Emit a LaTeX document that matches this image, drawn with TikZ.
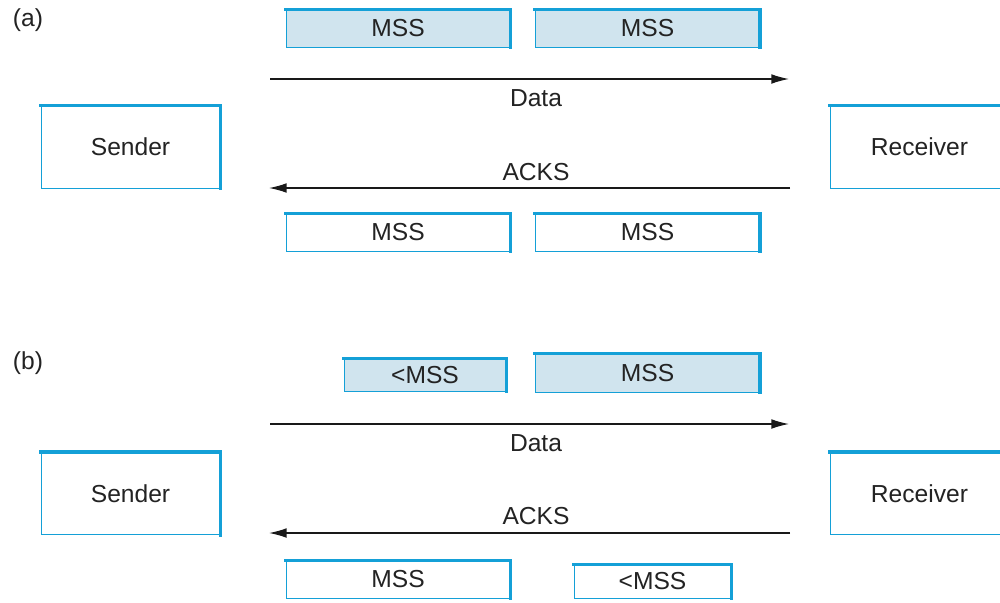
\documentclass[tikz,border=0pt]{standalone}
\usepackage{fontspec}
\setmainfont{Liberation Sans}
\usetikzlibrary{arrows.meta}
\definecolor{edgeblue}{RGB}{20,160,215}
\definecolor{fillblue}{RGB}{208,228,238}
\definecolor{txt}{RGB}{35,35,35}
\tikzset{
  box/.style={draw=edgeblue, line width=0.55pt, inner sep=0pt, text=txt,
    font=\fontsize{14}{16}\selectfont},
  seg/.style={box, minimum width=4.48cm, minimum height=0.74cm},
  full/.style={fill=fillblue},
  empty/.style={fill=white},
  party/.style={box, minimum width=3.58cm, minimum height=1.64cm, fill=white},
  thickedge/.style={draw=edgeblue, line width=2pt, line cap=rect},
  flow/.style={draw=black!90, line width=0.75pt, -{Latex[length=10pt,width=5.5pt]}},
  lbl/.style={text=txt, font=\fontsize{14}{16}\selectfont, inner sep=0pt},
}
\begin{document}
\begin{tikzpicture}[x=0.02cm,y=-0.02cm]
\clip (0,0) rectangle (1000,602);
\fill[white] (0,0) rectangle (1000,602);
% (a)
\node[lbl] (la) at (28,20) {(a)};
\node[seg,full] (a1) at (398,28.5) {MSS};
\node[seg,full] (a2) at (647.5,28.5) {MSS};
\node[party] (sa) at (130.5,147) {Sender};
\node[party] (ra) at (919.5,147) {Receiver};
\node[seg,empty] (a3) at (398,232.5) {MSS};
\node[seg,empty] (a4) at (647.5,232.5) {MSS};
\coordinate (da1) at (270,79);
\coordinate (da2) at (789,79);
\coordinate (ka1) at (790,188);
\coordinate (ka2) at (269,188);
\draw[flow] (da1) -- (da2);
\draw[flow] (ka1) -- (ka2);
\node[lbl] (tda) at (536,98) {Data};
\node[lbl] (tka) at (536,172) {ACKS};
% (b)
\node[lbl] (lb) at (28,363) {(b)};
\node[box,full,minimum width=3.24cm,minimum height=0.64cm] (b1) at (425,375) {<MSS};
\node[seg,full,minimum height=0.76cm] (b2) at (647.5,373) {MSS};
\node[party] (sb) at (130.5,493.5) {Sender};
\node[party] (rb) at (919.5,493.5) {Receiver};
\node[seg,empty] (b3) at (398,579.5) {MSS};
\node[box,empty,minimum width=3.14cm,minimum height=0.66cm] (b4) at (652.5,581.5) {<MSS};
\coordinate (db1) at (270,424);
\coordinate (db2) at (789,424);
\coordinate (kb1) at (790,533);
\coordinate (kb2) at (269,533);
\draw[flow] (db1) -- (db2);
\draw[flow] (kb1) -- (kb2);
\node[lbl] (tdb) at (536,443) {Data};
\node[lbl] (tkb) at (536,516) {ACKS};
% thick top/right edges
\foreach \n in {a1,a2,sa,ra,a3,a4,b1,b2,sb,rb,b3,b4}
  \draw[thickedge] (\n.north west) -- (\n.north east) -- (\n.south east);
\end{tikzpicture}
\end{document}
